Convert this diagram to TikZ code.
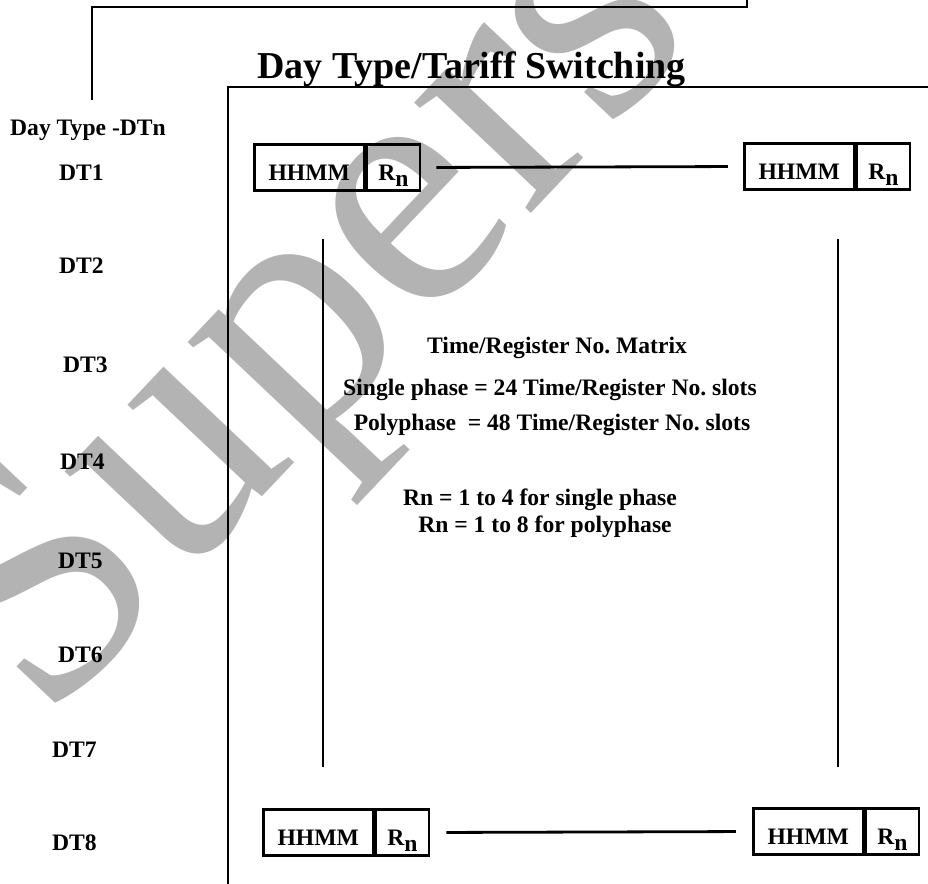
\documentclass[tikz,border=0pt]{standalone}
\usepackage{fontspec}
\setmainfont{Liberation Serif}
\newfontfamily\wmfamily{Liberation Serif}
\definecolor{wmgrey}{RGB}{179,179,179}
\frenchspacing
\newcommand{\dtfont}{\bfseries\fontsize{23.6}{23.6}\selectfont}
\newcommand{\ttlfont}{\bfseries\fontsize{38}{38}\selectfont}
\newcommand{\Rsub}{R\raisebox{-6pt}{n}}
\begin{document}
\begin{tikzpicture}[x=1pt,y=-1pt,
  lw/.style={line width=2.8pt},
  thinlw/.style={line width=2.5pt},
  cell/.style={draw, line width=2.8pt, inner sep=0pt, minimum height=46pt,
    text height=25pt, text depth=0pt, font=\dtfont},
  hcell/.style={cell, minimum width=110pt, anchor=center},
  rcell/.style={cell, minimum width=53pt, anchor=west},
  lbl/.style={inner sep=0pt, font=\dtfont, anchor=base west},
  ctr/.style={inner sep=0pt, font=\dtfont, anchor=base}]
\useasboundingbox (0,0) rectangle (928,883);
% watermark
\begin{scope}
\clip (0,0) rectangle (928,883);
\node[inner sep=0pt, anchor=base west, rotate=46.6, text=wmgrey,
  font=\wmfamily\fontsize{350}{350}\selectfont] (wm) at (45,727) {Superseded};
\end{scope}
% frames
\draw[lw] (92,100) -- (92,7) -- (747,7) -- (747,-3);
\draw[lw] (228,886) -- (228,87) -- (931,87);
% title
\node[inner sep=0pt, anchor=base west, font=\ttlfont] (title) at (257,78) {Day Type/Tariff Switching};
% left labels
\node[lbl] (dtn) at (10,135) {Day Type -DTn};
\node[lbl] (dt1) at (59,180) {DT1};
\node[lbl] (dt2) at (59,273) {DT2};
\node[lbl] (dt3) at (63,372) {DT3};
\node[lbl] (dt4) at (60,469) {DT4};
\node[lbl] (dt5) at (58,568) {DT5};
\node[lbl] (dt6) at (58,662) {DT6};
\node[lbl] (dt7) at (52,757) {DT7};
\node[lbl] (dt8) at (52,850) {DT8};
% boxes
\node[hcell] (tlh) at (309.2,167.5) {HHMM};
\node[rcell] (tlr) at (tlh.east) {\Rsub};
\node[hcell] (trh) at (799.2,166.5) {HHMM};
\node[rcell] (trr) at (trh.east) {\Rsub};
\node[hcell] (blh) at (318.2,832.5) {HHMM};
\node[rcell] (blr) at (blh.east) {\Rsub};
\node[hcell] (brh) at (808.2,831.5) {HHMM};
\node[rcell] (brr) at (brh.east) {\Rsub};
% connectors
\draw[lw, shorten <=15pt, shorten >=15pt] (tlr.east) -- (trh.west);
\draw[lw, shorten <=16pt, shorten >=16pt] (blr.east) -- (brh.west);
\coordinate (v1t) at (323,239);
\coordinate (v1b) at (323,767);
\coordinate (v2t) at (838,239);
\coordinate (v2b) at (838,767);
\draw[thinlw] (v1t) -- (v1b);
\draw[thinlw] (v2t) -- (v2b);
% centre text
\node[ctr] (m1) at (557,353) {Time/Register No. Matrix};
\node[ctr] (m2) at (550,395) {Single phase = 24 Time/Register No. slots};
\node[ctr] (m3) at (552,430) {Polyphase\ \ = 48 Time/Register No. slots};
\node[ctr] (m4) at (540,505) {Rn = 1 to 4 for single phase};
\node[ctr] (m5) at (545,532) {Rn = 1 to 8 for polyphase};
\end{tikzpicture}
\end{document}
